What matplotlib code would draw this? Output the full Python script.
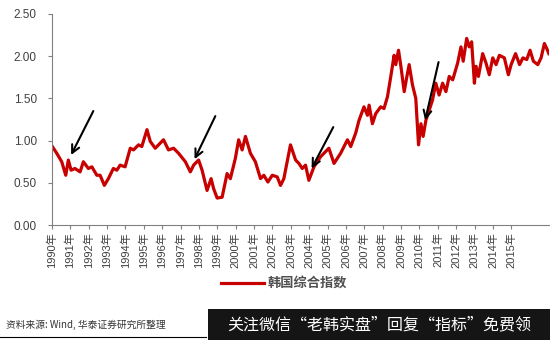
import matplotlib
matplotlib.use('Agg')
import matplotlib.pyplot as plt
from matplotlib.patches import Rectangle

plt.rcParams['font.family'] = ['Noto Sans CJK SC', 'DejaVu Sans']

# data (x in chart year position, value = index / base)
years = [1990.02, 1990.26, 1990.53, 1990.75, 1990.89, 1991.04, 1991.25, 1991.53, 1991.71, 1991.98,
         1992.17, 1992.44, 1992.62, 1992.85, 1993.07, 1993.34, 1993.53, 1993.71, 1993.98, 1994.26,
         1994.44, 1994.71, 1994.89, 1995.17, 1995.35, 1995.62, 1995.89, 1996.07, 1996.34, 1996.62,
         1996.89, 1997.26, 1997.53, 1997.71, 1997.98, 1998.17, 1998.44, 1998.66, 1998.80, 1998.99,
         1999.26, 1999.53, 1999.71, 1999.98, 2000.16, 2000.35, 2000.53, 2000.80, 2001.07, 2001.35,
         2001.53, 2001.75, 2001.99, 2002.26, 2002.44, 2002.62, 2002.98, 2003.26, 2003.44, 2003.62,
         2003.80, 2003.98, 2004.26, 2004.62, 2005.07, 2005.35, 2005.71, 2006.08, 2006.26, 2006.53,
         2006.71, 2006.98, 2007.17, 2007.26, 2007.44, 2007.62, 2007.89, 2008.07, 2008.26, 2008.44,
         2008.62, 2008.71, 2008.86, 2008.99, 2009.17, 2009.30, 2009.44, 2009.62, 2009.80, 2009.95,
         2010.08, 2010.20, 2010.35, 2010.53, 2010.71, 2010.89, 2011.07, 2011.26, 2011.44, 2011.62,
         2011.81, 2012.08, 2012.26, 2012.38, 2012.57, 2012.71, 2012.84, 2012.99, 2013.08, 2013.21,
         2013.44, 2013.62, 2013.80, 2013.99, 2014.17, 2014.35, 2014.62, 2014.84, 2014.99, 2015.23,
         2015.45, 2015.63, 2015.84, 2016.02, 2016.20, 2016.44, 2016.62, 2016.80, 2016.93, 2017.04]
kospi = [0.93, 0.85, 0.75, 0.59, 0.77, 0.65, 0.67, 0.63, 0.75, 0.67,
         0.69, 0.59, 0.59, 0.47, 0.55, 0.67, 0.65, 0.71, 0.69, 0.91,
         0.89, 0.95, 0.93, 1.13, 0.99, 0.91, 0.97, 1.01, 0.89, 0.91,
         0.85, 0.75, 0.63, 0.71, 0.77, 0.65, 0.41, 0.55, 0.43, 0.32,
         0.33, 0.61, 0.55, 0.79, 1.01, 0.89, 1.05, 0.85, 0.75, 0.55,
         0.59, 0.51, 0.59, 0.57, 0.47, 0.55, 0.95, 0.77, 0.73, 0.67,
         0.71, 0.53, 0.69, 0.81, 0.91, 0.73, 0.85, 1.01, 0.93, 1.09,
         1.24, 1.40, 1.30, 1.42, 1.20, 1.32, 1.40, 1.38, 1.52, 1.76,
         2.01, 1.90, 2.07, 1.88, 1.58, 1.74, 1.90, 1.66, 1.50, 0.95,
         1.20, 1.05, 1.24, 1.36, 1.48, 1.68, 1.54, 1.68, 1.58, 1.76,
         1.72, 1.92, 2.11, 1.94, 2.21, 2.11, 2.17, 1.68, 1.88, 1.76,
         2.03, 1.92, 1.78, 1.98, 1.90, 2.01, 1.98, 1.78, 1.90, 2.03,
         1.90, 1.98, 1.96, 2.07, 1.94, 1.90, 1.98, 2.15, 2.09, 2.03]

tick_years = list(range(1990, 2016))
tick_labels = [str(y) + '年' for y in tick_years]
y_ticks = [0, 0.5, 1.0, 1.5, 2.0, 2.5]

# arrows: (tail year, tail value, head year, head value)
arrows = [(1992.25, 1.35, 1991.04, 0.83),
          (1998.89, 1.29, 1997.76, 0.78),
          (2005.31, 1.16, 2004.13, 0.67),
          (2011.04, 1.93, 2010.31, 1.24)]

fig = plt.figure(figsize=(5.5, 3.4), dpi=100)
ax = fig.add_axes([0.0945, 0.338, 0.904, 0.621])

ax.plot(years, kospi, color='#C80000', linewidth=2.3, label='韩国综合指数')

for x0, y0, x1, y1 in arrows:
    ax.annotate('', xy=(x1, y1), xytext=(x0, y0),
                arrowprops=dict(arrowstyle='->', color='black', lw=1.5,
                                mutation_scale=14, shrinkA=0, shrinkB=0))

ax.set_xlim(1990, 2017.06)
ax.set_ylim(0, 2.5)
ax.set_yticks(y_ticks)
ax.set_yticklabels(['%.2f' % v for v in y_ticks], family=['Liberation Sans', 'DejaVu Sans'],
                   fontsize=8.5, color='#404040')
ax.set_xticks(tick_years)
ax.set_xticklabels(tick_labels, rotation=90, fontsize=8,
                   family=['Liberation Sans', 'Noto Sans CJK SC'], color='#404040')

for side in ['top', 'right']:
    ax.spines[side].set_visible(False)
for side in ['left', 'bottom']:
    ax.spines[side].set_color('#808080')
ax.tick_params(axis='both', direction='out', length=3, color='#808080', width=0.8)
ax.tick_params(axis='y', pad=8)
ax.tick_params(axis='x', pad=2)

ax.legend(loc='center', bbox_to_anchor=(0.467, -0.275), frameon=False,
          prop={'size': 9.5, 'weight': 'bold'}, handlelength=3.2, handletextpad=0.3,
          labelcolor='#505050')

# footer
fig.text(0.01, 0.045, '资料来源: Wind, 华泰证券研究所整理', fontsize=7, style='italic',
         color='#333333', va='center')
fig.add_artist(plt.Line2D([0, 0.375], [0.008, 0.008], color='black', lw=0.8,
                          transform=fig.transFigure))
fig.add_artist(Rectangle((0.378, 0), 0.622, 0.09, transform=fig.transFigure,
                         facecolor='#151515', edgecolor='none'))
fig.text(0.69, 0.045, '关注微信“老韩实盘”回复“指标”免费领', fontsize=11.5, color='white',
         ha='center', va='center')

fig.savefig('out.png', dpi=100)
